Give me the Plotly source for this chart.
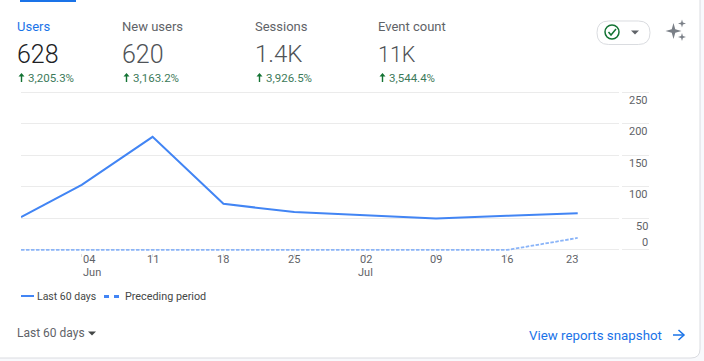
import plotly.graph_objects as go

W, H = 704, 361
dates = ["2024-05-29", "2024-06-04", "2024-06-11", "2024-06-18", "2024-06-25",
         "2024-07-02", "2024-07-09", "2024-07-16", "2024-07-23"]
last_60 = [52, 103, 179, 73, 60, 55, 50, 54, 58]
preceding = [0, 0, 0, 0, 0, 0, 0, 0, 19]
tick_dates = dates[1:]
tick_top = ["04", "11", "18", "25", "02", "09", "16", "23"]
tick_bottom = ["Jun", "", "", "", "Jul", "", "", ""]
tick_shift = [7, 0, 0, 0, 1, 0, 0, -6]
tick_bottom_shift = [10, 0, 0, 0, 0, 0, 0, 0]
y_ticks = [0, 50, 100, 150, 200, 250]
metric_names = ["Users", "New users", "Sessions", "Event count"]
metric_values = ["628", "620", "1.4K", "11K"]
metric_sizes = [25, 25, 24, 21.5]
metric_changes = ["3,205.3%", "3,163.2%", "3,926.5%", "3,544.4%"]
metric_left = [17, 122, 255, 378]

BLUE = "#4285f4"
GRAY = "#5f6368"
FONT = "Roboto"


def px(x):
    return x / W


def py(y):
    return 1 - y / H


def pt(x, y):
    return f"{px(x):.5f},{py(y):.5f}"


def path(d, **kw):
    s = " ".join(c + " ".join(pt(*p) for p in pts) for c, *pts in d)
    return dict(type="path", xref="paper", yref="paper", path=s, **kw)


def rect(x0, y0, x1, y1, color, layer="below"):
    return dict(type="rect", xref="paper", yref="paper", x0=px(x0), x1=px(x1), y0=py(y0), y1=py(y1),
                fillcolor=color, line_width=0, layer=layer)


def rounded(x0, y0, x1, y1, r):
    return [("M", (x0 + r, y0)), ("L", (x1 - r, y0)), ("Q", (x1, y0), (x1, y0 + r)),
            ("L", (x1, y1 - r)), ("Q", (x1, y1), (x1 - r, y1)), ("L", (x0 + r, y1)),
            ("Q", (x0, y1), (x0, y1 - r)), ("L", (x0, y0 + r)), ("Q", (x0, y0), (x0 + r, y0))]


def text(x, y, s, size, color, anchor="left", weight=None):
    f = dict(family=FONT, size=size, color=color)
    if weight:
        f["weight"] = weight
    return dict(xref="paper", yref="paper", x=px(x), y=py(y), text=s, showarrow=False,
                xanchor=anchor, yanchor="middle", borderpad=0, borderwidth=0, font=f)


fig = go.Figure()
fig.add_trace(go.Scatter(x=dates, y=preceding, name="Preceding period", mode="lines",
                         line=dict(color="#8ab4f8", width=1.8, dash="3.5px,1.5px")))
fig.add_trace(go.Scatter(x=dates, y=last_60, name="Last 60 days", mode="lines",
                         line=dict(color=BLUE, width=2)))

shapes, ann = [], []
# card
shapes.append(rect(0, 0, W, H, "#f8f9fc"))
shapes.append(path(rounded(-10, -10, 700, 358, 9), fillcolor="white", line=dict(color="#dadce0", width=1), layer="below"))
shapes.append(rect(20, 0, 76, 2, "#1a73e8"))

# metrics
for i, n in enumerate(metric_names):
    x = metric_left[i]
    ann.append(text(x, 27, n, 13, "#1a73e8" if i == 0 else GRAY))
    ann.append(text(x, 54, metric_values[i], metric_sizes[i], "#202124" if i == 0 else "#4f5357", weight=300))
    ann.append(text(x + 11, 78, metric_changes[i], 11.5, "#3c7a5a"))
    ax = x + 4.5
    shapes.append(path([("M", (ax, 73)), ("L", (ax + 3, 76.5)), ("L", (ax + .7, 76.5)), ("L", (ax + .7, 82)),
                        ("L", (ax - .7, 82)), ("L", (ax - .7, 76.5)), ("L", (ax - 3, 76.5))],
                       fillcolor="#137333", line_width=0))

# gap in the gridlines
shapes.append(rect(619, 88, 622, 255, "white", layer="above"))

# y labels
for v in y_ticks:
    ann.append(dict(xref="paper", yref="y", x=px(650), y=v, text=str(v), showarrow=False, xanchor="right",
                    yanchor="middle", yshift=-8 if v else 7,
                    font=dict(family=FONT, size=11, color=GRAY)))
# x labels
for d, a, b, s, s2 in zip(tick_dates, tick_top, tick_bottom, tick_shift, tick_bottom_shift):
    ann.append(dict(xref="x", yref="paper", x=d, y=py(259.5), text=a, showarrow=False, xanchor="center",
                    yanchor="middle", xshift=s, font=dict(family=FONT, size=11, color=GRAY)))
    if b:
        ann.append(dict(xref="x", yref="paper", x=d, y=py(272.5), text=b, showarrow=False, xanchor="center",
                        yanchor="middle", xshift=s2, font=dict(family=FONT, size=11, color=GRAY)))

# legend
shapes.append(dict(type="line", xref="paper", yref="paper", x0=px(21), x1=px(34), y0=py(296), y1=py(296),
                   line=dict(color=BLUE, width=2)))
ann.append(text(37, 296, fig.data[1].name, 10.5, "#444746"))
for a in (104, 114):
    shapes.append(rect(a, 295, a + 5, 298, "#4285f4"))
ann.append(text(125, 296, fig.data[0].name, 10.8, "#444746"))

# footer
ann.append(text(17, 333, "Last 60 days", 12, GRAY))
shapes.append(path([("M", (88, 331.5)), ("L", (96, 331.5)), ("L", (92, 335.5))], fillcolor="#444746", line_width=0))
ann.append(text(529, 335, "View reports snapshot", 13.3, "#1a73e8"))
shapes.append(path([("M", (673, 335)), ("L", (683, 335))], line=dict(color="#1a73e8", width=1.5)))
shapes.append(path([("M", (678.5, 330)), ("L", (684, 335)), ("L", (678.5, 340))], line=dict(color="#1a73e8", width=1.5)))

# status pill
shapes.append(path(rounded(597, 21, 650, 44.5, 11.7), fillcolor="white", line=dict(color="#dadce0", width=1)))
shapes.append(dict(type="circle", xref="paper", yref="paper", x0=px(605), x1=px(619), y0=py(25), y1=py(39),
                   line=dict(color="#137333", width=1.5), fillcolor="rgba(0,0,0,0)"))
shapes.append(path([("M", (608.5, 32)), ("L", (611, 35)), ("L", (616, 29))], line=dict(color="#137333", width=1.5)))
shapes.append(path([("M", (631, 30.5)), ("L", (639, 30.5)), ("L", (635, 34.5))], fillcolor=GRAY, line_width=0))


def sparkle(cx, cy, r, c=.22):
    offs = [(0, -1), (c, -c), (1, 0), (c, c), (0, 1), (-c, c), (-1, 0), (-c, -c)]
    return path([("M" if i == 0 else "L", (cx + dx * r, cy + dy * r)) for i, (dx, dy) in enumerate(offs)],
                fillcolor="#7a7f87", line_width=0)


shapes += [sparkle(673.5, 31, 8), sparkle(682, 23.5, 4), sparkle(682, 37, 4)]

fig.update_layout(
    width=W, height=H, margin=dict(l=0, r=0, t=0, b=0), paper_bgcolor="rgba(0,0,0,0)", plot_bgcolor="rgba(0,0,0,0)",
    showlegend=False, shapes=shapes, annotations=ann, font=dict(family=FONT),
    xaxis=dict(domain=[px(21), px(649)], range=["2024-05-29", "2024-07-30 01:00"], tickvals=tick_dates,
               showticklabels=False, ticks="outside", ticklen=3, tickcolor="#e0e0e0", showgrid=False,
               zeroline=False, showline=False),
    yaxis=dict(domain=[py(252.5), py(89.5)], range=[-4, 254], tickvals=y_ticks, showticklabels=False,
               gridcolor="#ebebeb", gridwidth=1, zeroline=False, showline=False, ticks=""),
)
fig.write_html("out.html", post_script="document.body.style.margin='0';document.body.style.overflow='hidden';",
               config=dict(displayModeBar=False))
